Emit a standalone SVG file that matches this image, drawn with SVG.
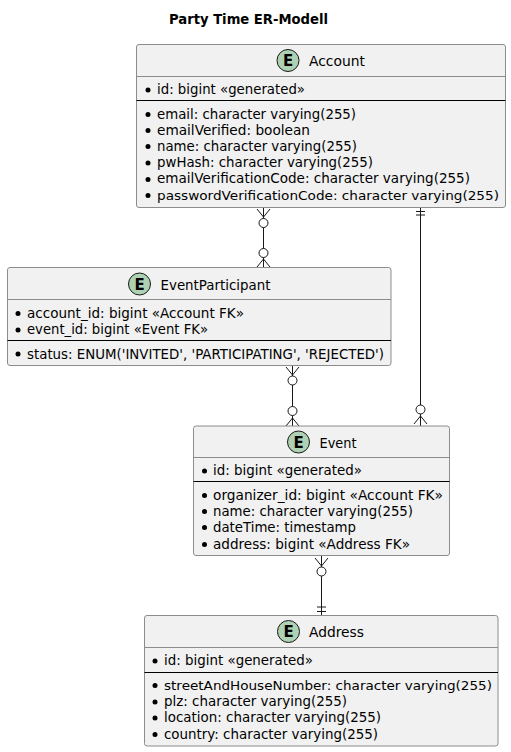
<svg xmlns="http://www.w3.org/2000/svg" width="511" height="752" viewBox="0 0 511 752">
<style>
text{font-family:"DejaVu Sans",sans-serif;fill:#000}
.t{font-size:13.500px;font-weight:bold}
.h{font-size:14.500px}
.m{font-size:14px}
.n{font-size:12.500px}
.b{fill:#f1f1f1;stroke:#8c8c8c;stroke-width:1}
.d{stroke:#8c8c8c;stroke-width:1;fill:none}
.s{stroke:#000;stroke-width:1;fill:none}
.c{fill:#add1b2;stroke:#181818;stroke-width:1}
.e{font-size:15px;font-weight:bold;text-anchor:middle}
.l{stroke:#181818;stroke-width:1;fill:none}
.o{stroke:#181818;stroke-width:1;fill:#fff}
.u{fill:#000}
</style>
<text class="t" x="169" y="24" textLength="159" lengthAdjust="spacingAndGlyphs">Party Time ER-Modell</text>
<g id="connectors">
<path class="l" d="M263.5 208V267M257 209L263.5 217M270 209L263.5 217M257 267L263.5 259M270 267L263.5 259"/>
<circle class="o" cx="263.5" cy="223" r="4.500"/><circle class="o" cx="263.5" cy="253" r="4.500"/>
<path class="l" d="M292.5 366V426M286 367L292.5 375M299 367L292.5 375M286 426L292.5 418M299 426L292.5 418"/>
<circle class="o" cx="292.5" cy="380.500" r="4.500"/><circle class="o" cx="292.500" cy="411" r="4.500"/>
<path class="l" d="M420.500 208V426M416 211.500H425M416 215H425M414 424L420.500 416M427 424L420.500 416"/>
<circle class="o" cx="420.500" cy="409.500" r="4.500"/>
<path class="l" d="M321.500 556V615M315 558L321.500 566M328 558L321.500 566M317 607H326M317 611.500H326"/>
<circle class="o" cx="321.500" cy="571.500" r="4.500"/>
</g>
<g id="account">
<rect class="b" x="136.500" y="44.500" width="369" height="163" rx="2.500"/>
<path class="d" d="M136.500 76.500H505.500"/><path class="s" d="M136.500 100.500H505.500"/>
<circle class="c" cx="288" cy="60.500" r="11"/><text class="e" x="288" y="66">E</text>
<text class="h" x="309" y="66" textLength="56" lengthAdjust="spacingAndGlyphs">Account</text>
<circle class="u" cx="148" cy="90" r="2.500"/><text class="m" x="157" y="94" textLength="148" lengthAdjust="spacingAndGlyphs">id: bigint «generated»</text>
<circle class="u" cx="148" cy="114.500" r="2.500"/><text class="m" x="157" y="118.500" textLength="199" lengthAdjust="spacingAndGlyphs">email: character varying(255)</text>
<circle class="u" cx="148" cy="130.500" r="2.500"/><text class="m" x="157" y="135" textLength="153" lengthAdjust="spacingAndGlyphs">emailVerified: boolean</text>
<circle class="u" cx="148" cy="146.500" r="2.500"/><text class="m" x="157" y="150.500" textLength="200" lengthAdjust="spacingAndGlyphs">name: character varying(255)</text>
<circle class="u" cx="148" cy="163" r="2.500"/><text class="m" x="157" y="167" textLength="216" lengthAdjust="spacingAndGlyphs">pwHash: character varying(255)</text>
<circle class="u" cx="148" cy="179.500" r="2.500"/><text class="m" x="157" y="183" textLength="313" lengthAdjust="spacingAndGlyphs">emailVerificationCode: character varying(255)</text>
<circle class="u" cx="148" cy="195.500" r="2.500"/><text class="n" x="157" y="199.500" textLength="342" lengthAdjust="spacingAndGlyphs">passwordVerificationCode: character varying(255)</text>
</g>
<g id="eventparticipant">
<rect class="b" x="7.500" y="267.500" width="383.500" height="98" rx="2.500"/>
<path class="d" d="M7.500 299.500H391"/><path class="s" d="M7.500 340.500H391"/>
<circle class="c" cx="139.500" cy="284" r="11"/><text class="e" x="139.500" y="289.500">E</text>
<text class="h" x="160.500" y="289.500" textLength="110" lengthAdjust="spacingAndGlyphs">EventParticipant</text>
<circle class="u" cx="18" cy="313.500" r="2.500"/><text class="m" x="27" y="317.500" textLength="217" lengthAdjust="spacingAndGlyphs">account_id: bigint «Account FK»</text>
<circle class="u" cx="18" cy="330" r="2.500"/><text class="m" x="27" y="334" textLength="181" lengthAdjust="spacingAndGlyphs">event_id: bigint «Event FK»</text>
<circle class="u" cx="18" cy="354" r="2.500"/><text class="m" x="27" y="358.500" textLength="357" lengthAdjust="spacingAndGlyphs">status: ENUM('INVITED', 'PARTICIPATING', 'REJECTED')</text>
</g>
<g id="event">
<rect class="b" x="193.500" y="426" width="256" height="129.500" rx="2.500"/>
<path class="d" d="M193.500 457.500H449.500"/><path class="s" d="M193.500 481.500H449.500"/>
<circle class="c" cx="298.500" cy="442" r="11"/><text class="e" x="298.500" y="447.500">E</text>
<text class="h" x="319.500" y="447.500" textLength="37" lengthAdjust="spacingAndGlyphs">Event</text>
<circle class="u" cx="204.500" cy="471" r="2.500"/><text class="m" x="213" y="475" textLength="149" lengthAdjust="spacingAndGlyphs">id: bigint «generated»</text>
<circle class="u" cx="204.500" cy="495.500" r="2.500"/><text class="m" x="213" y="499.500" textLength="230" lengthAdjust="spacingAndGlyphs">organizer_id: bigint «Account FK»</text>
<circle class="u" cx="204.500" cy="511.500" r="2.500"/><text class="m" x="213" y="516" textLength="200" lengthAdjust="spacingAndGlyphs">name: character varying(255)</text>
<circle class="u" cx="204.500" cy="527.500" r="2.500"/><text class="m" x="213" y="531.500" textLength="143" lengthAdjust="spacingAndGlyphs">dateTime: timestamp</text>
<circle class="u" cx="204.500" cy="544.500" r="2.500"/><text class="m" x="213" y="548.500" textLength="197" lengthAdjust="spacingAndGlyphs">address: bigint «Address FK»</text>
</g>
<g id="address">
<rect class="b" x="144.500" y="615.500" width="353.500" height="130.500" rx="2.500"/>
<path class="d" d="M144.500 647.500H498"/><path class="s" d="M144.500 672.500H498"/>
<circle class="c" cx="288.500" cy="631.500" r="11"/><text class="e" x="288.500" y="637">E</text>
<text class="h" x="309" y="637" textLength="55" lengthAdjust="spacingAndGlyphs">Address</text>
<circle class="u" cx="155" cy="661" r="2.500"/><text class="m" x="164" y="665" textLength="149" lengthAdjust="spacingAndGlyphs">id: bigint «generated»</text>
<circle class="u" cx="155" cy="685.500" r="2.500"/><text class="n" x="164" y="689.500" textLength="328" lengthAdjust="spacingAndGlyphs">streetAndHouseNumber: character varying(255)</text>
<circle class="u" cx="155" cy="702" r="2.500"/><text class="m" x="164" y="706" textLength="183" lengthAdjust="spacingAndGlyphs">plz: character varying(255)</text>
<circle class="u" cx="155" cy="718" r="2.500"/><text class="m" x="164" y="722" textLength="217" lengthAdjust="spacingAndGlyphs">location: character varying(255)</text>
<circle class="u" cx="155" cy="734.500" r="2.500"/><text class="m" x="164" y="738.500" textLength="214" lengthAdjust="spacingAndGlyphs">country: character varying(255)</text>
</g>
</svg>
